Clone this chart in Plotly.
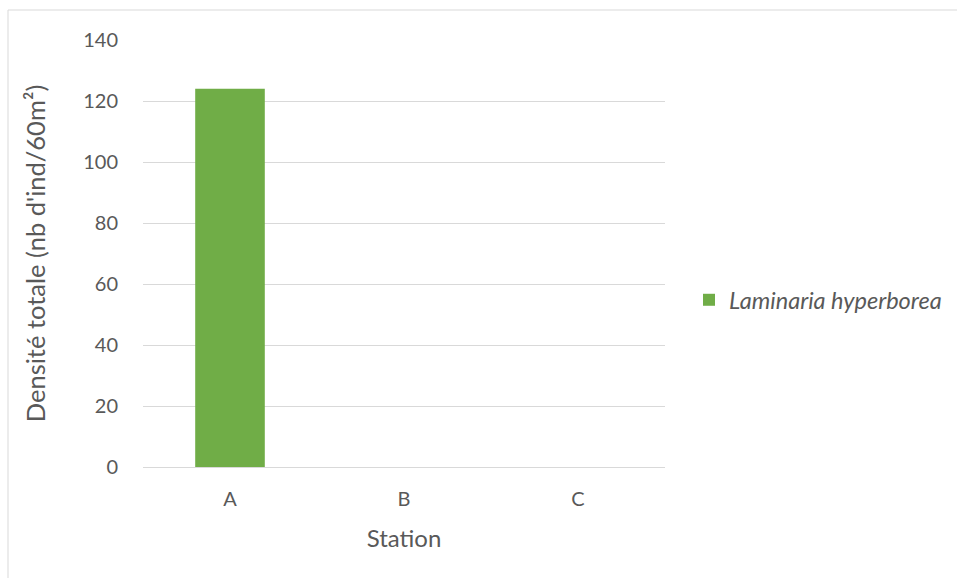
import plotly.graph_objects as go

stations = ["A", "B", "C"]
densite = [124, 0, 0]
serie = "Laminaria hyperborea"
y_ticks = [0, 20, 40, 60, 80, 100, 120, 140]

W, H = 957, 578
L, R, T, B = 143, 292, 40, 111
pw, ph = W - L - R, H - T - B

txt = "#595959"
grid = "#d9d9d9"
font_family = "Lato, 'Open Sans', sans-serif"

fig = go.Figure()
fig.add_trace(go.Bar(
    x=stations, y=densite, name="<i>" + serie + "</i>",
    marker=dict(color="#70ad47", line=dict(width=0)),
    showlegend=True,
))

fig.update_layout(
    width=W, height=H,
    margin=dict(l=L, r=R, t=T, b=B, autoexpand=False),
    paper_bgcolor="white", plot_bgcolor="white",
    font=dict(family=font_family, color=txt, size=20),
    bargap=0.6,
    showlegend=True,
    legend=dict(
        x=(689 - L) / pw, xanchor="left",
        y=(H - B - 300) / ph, yanchor="middle",
        font=dict(size=23.5, color=txt),
        itemwidth=30,
        bgcolor="rgba(0,0,0,0)",
    ),
    xaxis=dict(
        title=dict(text="Station", font=dict(size=24, color=txt), standoff=21),
        showgrid=False, zeroline=False,
        showline=True, linecolor=grid, linewidth=1,
        ticks="", ticklabelstandoff=14,
        tickfont=dict(size=20, color=txt),
    ),
    yaxis=dict(
        title=dict(text="Densité totale (nb d'ind/60m²)", font=dict(size=25.5, color=txt), standoff=30),
        range=[0, 140], tickvals=y_ticks,
        showgrid=True, gridcolor=grid, gridwidth=1,
        zeroline=False, showline=False, ticks="",
        tickfont=dict(size=20, color=txt),
        ticklabelstandoff=24,
    ),
    shapes=[dict(
        type="rect", xref="paper", yref="paper",
        x0=(8 - L) / pw, x1=(W + 20 - L) / pw,
        y0=(H - B - (H + 20)) / ph, y1=(H - B - 10) / ph,
        line=dict(color="#d9d9d9", width=1), fillcolor="rgba(0,0,0,0)",
        layer="below",
    )],
)

fig.write_html("out.html")
